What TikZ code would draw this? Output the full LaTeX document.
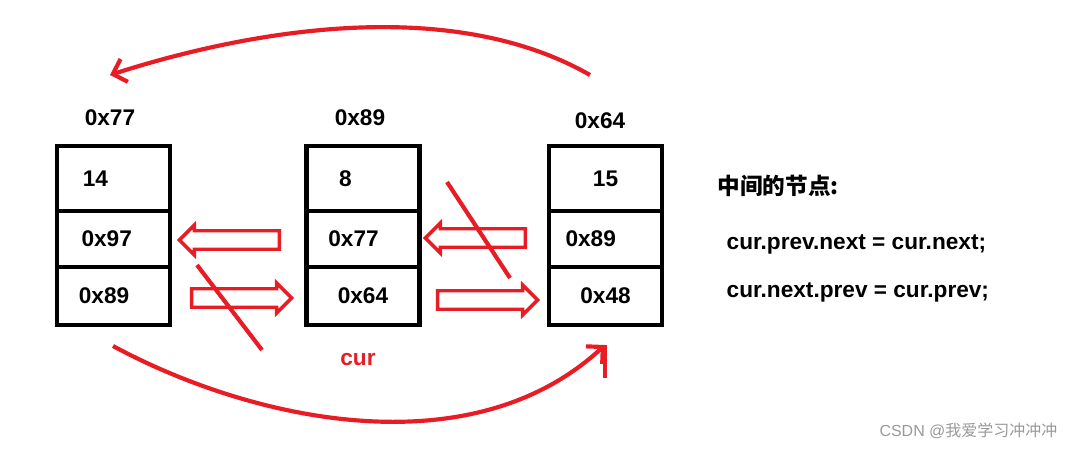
\documentclass[tikz,border=0pt]{standalone}
\usepackage{fontspec}
\setmainfont{Liberation Sans}
\newfontfamily\cjk{Noto Sans CJK SC}
\usetikzlibrary{shapes.arrows, arrows.meta, positioning}
\definecolor{penred}{RGB}{232,28,36}

\begin{document}
\begin{tikzpicture}[
    x=0.0264cm, y=-0.0264cm,
    cell/.style={rectangle, draw=black, line width=1.3mm, minimum width=113*0.0264cm, inner sep=0pt, font=\fontsize{17}{19}\selectfont\bfseries},
    addr/.style={font=\fontsize{17}{19}\selectfont\bfseries},
    blockarrow/.style={single arrow, draw=penred, line width=0.9mm, minimum height=100*0.0264cm, single arrow head extend=0.15cm, single arrow head indent=0pt, inner xsep=0pt, inner ysep=0.2cm},
    pen/.style={penred, line width=1.1mm},
    code/.style={font=\fontsize{17}{19}\selectfont\bfseries, anchor=west}
]
\useasboundingbox (0,0) rectangle (1066,448);

% Nodes
\node[addr] (a77) at (110,118) {0x77};
\node[addr] (a89) at (360,118) {0x89};
\node[addr] (a64) at (600,121) {0x64};

\node[cell, minimum height=65*0.0264cm] (n1val) at (113.5,178.5) {\makebox[80pt][l]{\hspace{17pt}14}};
\node[cell, minimum height=56*0.0264cm] (n1prev) at (113.5,239) {\makebox[80pt][l]{\hspace{16pt}0x97}};
\node[cell, minimum height=58*0.0264cm] (n1next) at (113.5,296) {\makebox[80pt][l]{\hspace{14pt}0x89}};

\node[cell, minimum height=65*0.0264cm] (n2val) at (363,178.5) {\makebox[80pt][l]{\hspace{22pt}8}};
\node[cell, minimum height=56*0.0264cm] (n2prev) at (363,239) {\makebox[80pt][l]{\hspace{14pt}0x77}};
\node[cell, minimum height=58*0.0264cm] (n2next) at (363,296) {0x64};

\node[cell, minimum height=65*0.0264cm] (n3val) at (605.5,178.5) {15};
\node[cell, minimum height=56*0.0264cm] (n3prev) at (605.5,239) {\makebox[80pt][l]{\hspace{10pt}0x89}};
\node[cell, minimum height=58*0.0264cm] (n3next) at (605.5,296) {0x48};

% Block arrows
\node[blockarrow, shape border rotate=180] (b1) at (234,240) {};
\node[blockarrow] (b2) at (237,298) {};
\node[blockarrow, shape border rotate=180] (b3) at (480,238) {};
\node[blockarrow] (b4) at (483,300) {};

% Crossings
\draw[pen] (197,265) -- (262,350);
\draw[pen] (447,182) -- (510,278);

% Curves
\coordinate (topstart) at (590,75);
\coordinate (topend) at (110,75);
\draw[pen, -{Straight Barb[length=9pt, width=18pt]}] (topstart) .. controls (450,-5) and (250,30) .. (topend);
\coordinate (botstart) at (113,346);
\coordinate (botend) at (605,345);
\draw[pen, -{Straight Barb[length=9pt, width=18pt]}] (botstart) .. controls (250,420) and (470,470) .. (botend);
\draw[pen] (botend) -- (605,378);

\node[font=\fontsize{17}{19}\selectfont\bfseries, text=penred] (cur) at (358,360) {cur};

% Code
\node[code] (title) at (713,186) {\cjk 中间的节点:};
\node[code] (line1) at (722,244) {cur.prev.next = cur.next;};
\node[code] (line2) at (722,292) {cur.next.prev = cur.prev;};

\node[font=\fontsize{12}{14}\selectfont, text=black!40, anchor=east] (mark) at (1062,431) {CSDN @{\cjk 我爱学习冲冲冲}};
\end{tikzpicture}
\end{document}
